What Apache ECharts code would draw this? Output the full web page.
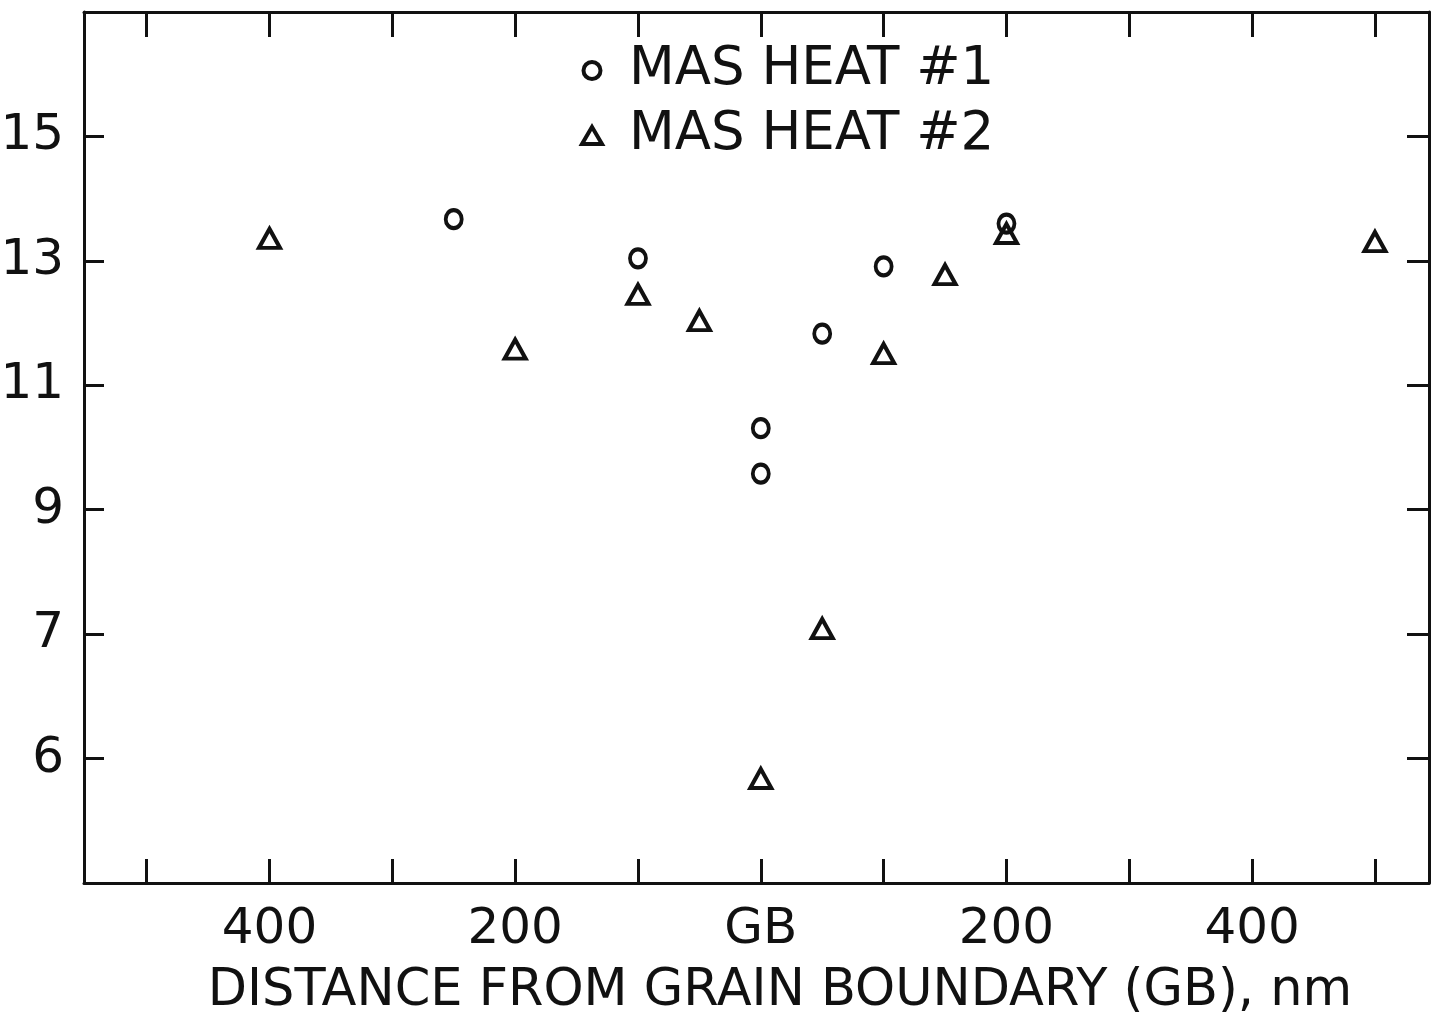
<!DOCTYPE html>
<html>
<head>
<meta charset="utf-8">
<title>MAS heat vs distance from grain boundary</title>
<script src="https://cdn.jsdelivr.net/npm/echarts@6/dist/echarts.min.js"></script>
<style>
  html, body { margin: 0; padding: 0; background: #fff; }
  #chart { width: 1435px; height: 1014px; }
</style>
</head>
<body>
<div id="chart"></div>
<script>
// distance from grain boundary in nm (left side of GB negative), and the measured value
const heat1X = [-250, -100, 0, 0, 50, 100, 200];
const heat1Y = [13.67, 13.04, 10.31, 9.58, 11.83, 12.91, 13.6];
const heat2X = [-400, -200, -100, -50, 0, 50, 100, 150, 200, 500];
const heat2Y = [13.36, 11.58, 12.46, 12.04, 4.68, 7.09, 11.51, 12.78, 13.44, 13.31];

const xTicks = [-500, -400, -300, -200, -100, 0, 100, 200, 300, 400, 500];
const xLabelValues = [-400, -200, 0, 200, 400];
const yTicks = [5, 7, 9, 11, 13, 15];
const yTickLabels = ['6', '7', '9', '11', '13', '15'];

const ink = '#111';
const font = 'DejaVu Sans';

const chart = echarts.init(document.getElementById('chart'));

const pairs = (xs, ys) => xs.map((x, i) => [x, ys[i]]);

const frameLine = { show: true, onZero: false, lineStyle: { color: ink, width: 3 } };
const markStyle = { color: 'rgba(0,0,0,0)', borderColor: ink, borderWidth: 4, opacity: 1 };

const option = {
  animation: false,
  backgroundColor: '#fff',
  grid: { left: 84, right: 6, top: 12, bottom: 131, containLabel: false, outerBoundsMode: 'none' },
  legend: {
    orient: 'vertical',
    left: 580,
    top: 44,
    padding: 0,
    itemGap: 12,
    itemWidth: 20,
    itemHeight: 17,
    textStyle: { color: ink, fontFamily: font, fontSize: 53, padding: [0, 0, 0, 22] },
    data: [
      { name: 'MAS HEAT #1', icon: 'circle', itemStyle: markStyle },
      { name: 'MAS HEAT #2', icon: 'triangle', itemStyle: markStyle }
    ]
  },
  xAxis: [
    {
      type: 'value',
      position: 'bottom',
      min: -551,
      max: 544,
      axisLine: frameLine,
      splitLine: { show: false },
      axisTick: { inside: true, length: 24, customValues: xTicks, lineStyle: { color: ink, width: 3 } },
      axisLabel: {
        customValues: xLabelValues,
        color: ink, fontFamily: font, fontSize: 50, margin: 22,
        formatter: (v) => (v === 0 ? 'GB' : String(Math.abs(v)))
      },
      name: 'DISTANCE FROM GRAIN BOUNDARY (GB), nm',
      nameLocation: 'middle',
      nameGap: 83,
      nameTextStyle: { color: ink, fontFamily: font, fontSize: 51, padding: [0, 0, 0, 47], verticalAlign: 'top' }
    },
    {
      type: 'value',
      position: 'top',
      min: -551,
      max: 544,
      axisLine: frameLine,
      splitLine: { show: false },
      axisTick: { inside: true, length: 25, customValues: xTicks, lineStyle: { color: ink, width: 3 } },
      axisLabel: { show: false }
    }
  ],
  yAxis: [
    {
      type: 'value',
      position: 'left',
      min: 3,
      max: 17,
      axisLine: frameLine,
      splitLine: { show: false },
      axisTick: { inside: true, length: 20, customValues: yTicks, lineStyle: { color: ink, width: 3 } },
      axisLabel: {
        customValues: yTicks,
        color: ink, fontFamily: font, fontSize: 50, margin: 20,
        formatter: (v) => yTickLabels[yTicks.indexOf(v)]
      }
    },
    {
      type: 'value',
      position: 'right',
      min: 3,
      max: 17,
      axisLine: frameLine,
      splitLine: { show: false },
      axisTick: { inside: true, length: 22, customValues: yTicks, lineStyle: { color: ink, width: 3 } },
      axisLabel: { show: false }
    }
  ],
  series: [
    {
      name: 'MAS HEAT #1',
      type: 'scatter',
      xAxisIndex: 0,
      yAxisIndex: 0,
      symbol: 'circle',
      symbolSize: [16, 18],
      itemStyle: markStyle,
      data: pairs(heat1X, heat1Y)
    },
    {
      name: 'MAS HEAT #2',
      type: 'scatter',
      xAxisIndex: 0,
      yAxisIndex: 0,
      symbol: 'triangle',
      symbolSize: [21, 19],
      itemStyle: markStyle,
      data: pairs(heat2X, heat2Y)
    }
  ]
};

chart.setOption(option);
</script>
</body>
</html>
